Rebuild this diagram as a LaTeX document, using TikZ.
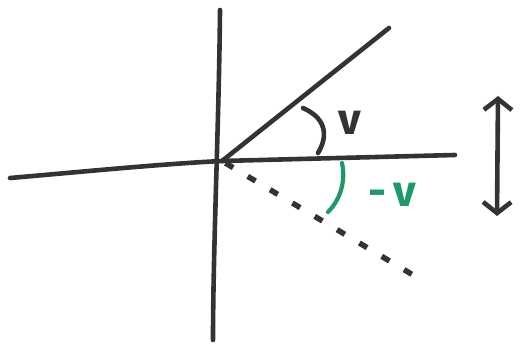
\documentclass[tikz,border=0pt]{standalone}
\usepackage{fontspec}
\setmainfont{Fira Sans}
\usetikzlibrary{arrows.meta}
\definecolor{ink}{HTML}{333333}
\definecolor{grn}{HTML}{1E9968}
\tikzset{
  pen/.style={draw=ink, line width=4.6pt, line cap=round, line join=round},
  gpen/.style={draw=grn, line width=4.2pt, line cap=round, line join=round},
  lbl/.style={inner sep=0pt, font=\fontsize{44}{44}\selectfont\bfseries},
}
\begin{document}
\begin{tikzpicture}[x=1pt,y=-1pt]
\useasboundingbox (0,0) rectangle (530,347);
\coordinate (O) at (222,161);
\coordinate (vtop) at (220,10);
\coordinate (vbot) at (213,340);
\coordinate (hleft) at (10,178);
\coordinate (hright) at (455,155);
\coordinate (ray) at (389,28);
\coordinate (dray) at (418,278);
\coordinate (atop) at (498,96);
\coordinate (abot) at (497,216);
% axes
\draw[pen] (vtop) .. controls (219,120) and (213,250) .. (vbot);
\draw[pen] (hleft) .. controls (80,172) and (160,164) .. (O) -- (hright);
% rays
\draw[pen] (O) -- (ray);
\draw[pen, line width=5.5pt, line cap=butt, dash pattern=on 9pt off 17pt, dash phase=-4pt] (O) -- (dray);
% angle arcs
\draw[pen] (303,108) .. controls (330,120) and (326,140) .. (318,153);
\draw[gpen] (342,163) .. controls (346,182) and (340,200) .. (328,212);
% labels
\node[lbl, text=ink] (v) at (350,123) {v};
\node[lbl, text=grn] (mv) at (392,195) {-\,v};
% double arrow
\draw[pen, {Straight Barb[length=11pt,width=28pt]}-{Straight Barb[length=11pt,width=28pt]}] (atop) -- (abot);
\end{tikzpicture}
\end{document}
